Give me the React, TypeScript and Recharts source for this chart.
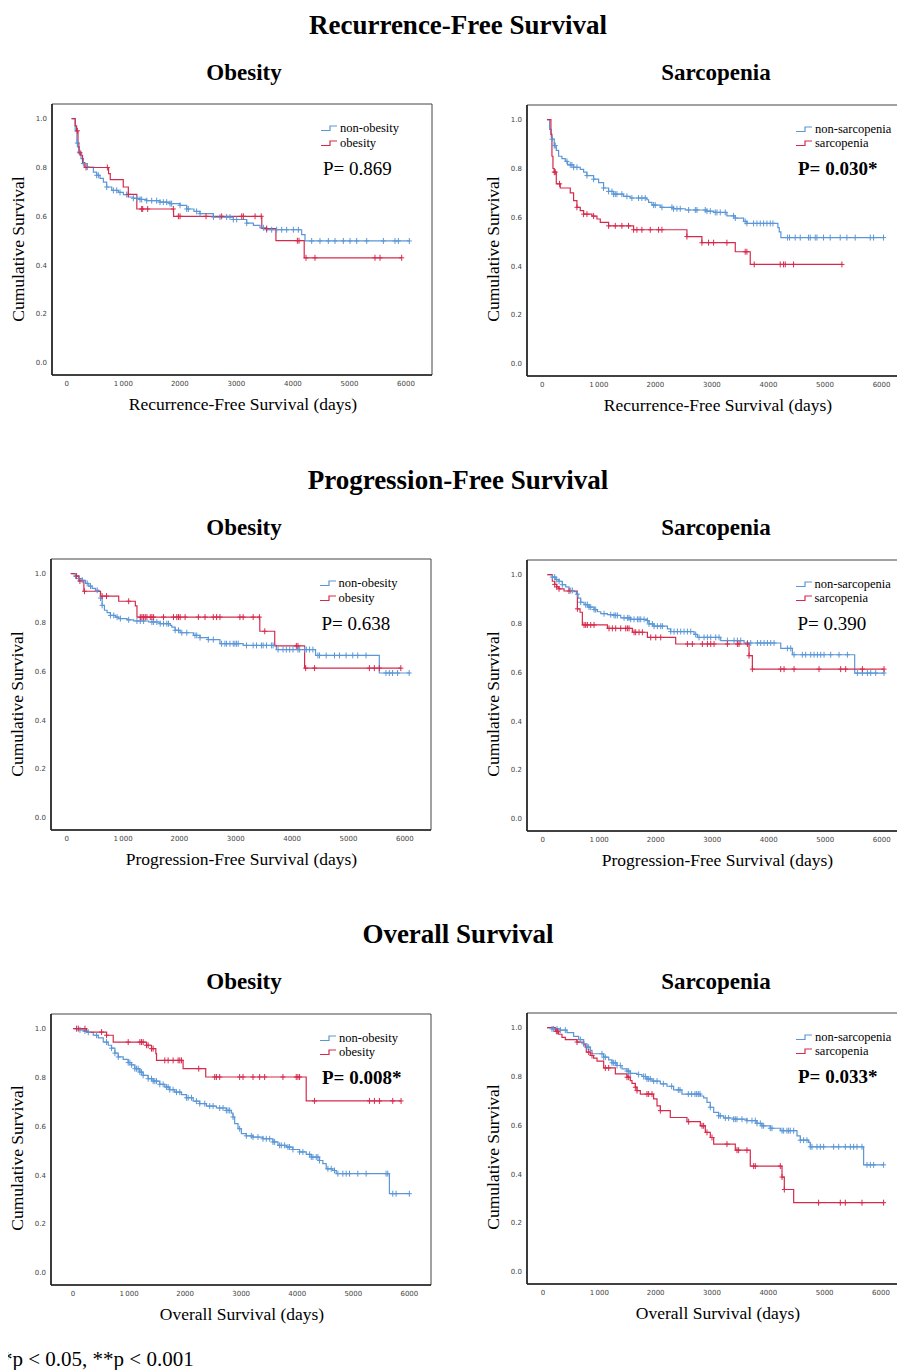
import React from "react";
import { ComposedChart, Line, Scatter, XAxis, YAxis, ReferenceArea } from "recharts";

type Pt = [number, number];

const xTicks = [0, 1000, 2000, 3000, 4000, 5000, 6000];
const yTicks = [0, 0.2, 0.4, 0.6, 0.8, 1.0];

// ---- Recurrence-free survival, obesity ----
const rfsObNonSteps: Pt[] = [[80,1],[150,0.95],[180,0.9],[190,0.884],[224,0.863],[253,0.836],[295,0.816],[365,0.802],[472,0.781],[530,0.768],[589,0.755],[648,0.74],[707,0.72],[796,0.706],[914,0.698],[1002,0.689],[1090,0.679],[1179,0.674],[1297,0.669],[1415,0.664],[1650,0.658],[1827,0.652],[2004,0.645],[2122,0.63],[2250,0.62],[2358,0.611],[2594,0.597],[2947,0.587],[3183,0.572],[3301,0.563],[3419,0.553],[3536,0.545],[4155,0.525],[4214,0.499],[6059,0.499]];
const rfsObNonCens = [189,224,295,365,530,560,707,825,884,943,1061,1179,1238,1297,1326,1415,1503,1591,1650,1709,1768,1827,1856,2004,2122,2151,2298,2358,2594,2711,2829,2888,2947,3006,3183,3478,3536,3625,3713,3802,3890,4008,4097,4332,4479,4627,4745,4892,5010,5128,5305,5600,5806,5865,6059];
const rfsObSteps: Pt[] = [[90,1],[150,0.97],[175,0.95],[200,0.9],[215,0.86],[250,0.85],[280,0.82],[320,0.8],[740,0.775],[770,0.75],[1000,0.72],[1090,0.69],[1240,0.63],[1890,0.6],[3450,0.55],[3700,0.5],[4200,0.43],[5924,0.43]];
const rfsObCens = [189,236,342,719,1090,1326,1344,1432,1886,1975,2004,2464,2741,3095,3124,3331,3440,3536,4079,4108,4232,4391,5452,5541,5924];

// ---- Recurrence-free survival, sarcopenia ----
const rfsSarNonSteps: Pt[] = [[83,1],[130,0.96],[159,0.929],[171,0.92],[212,0.894],[248,0.874],[289,0.85],[348,0.84],[407,0.829],[448,0.815],[554,0.805],[672,0.796],[731,0.785],[790,0.771],[908,0.756],[996,0.742],[1084,0.72],[1173,0.706],[1261,0.695],[1438,0.686],[1556,0.679],[1851,0.672],[1880,0.661],[1939,0.65],[2087,0.641],[2322,0.635],[2529,0.63],[2912,0.625],[3030,0.62],[3265,0.606],[3413,0.597],[3560,0.583],[3619,0.575],[4167,0.558],[4191,0.54],[4220,0.517],[6035,0.517]];
const rfsSarNonCens = [171,212,230,436,495,524,554,613,790,908,1084,1173,1232,1261,1291,1320,1408,1497,1585,1703,1762,1821,1969,1998,2116,2293,2322,2381,2440,2588,2706,2735,2882,2912,2971,3059,3089,3148,3236,3383,3413,3589,3619,3737,3796,3855,3914,3973,4032,4079,4338,4373,4473,4562,4709,4739,4827,4857,4974,5092,5269,5387,5534,5800,5859,6035];
const rfsSarSteps: Pt[] = [[83,1],[153,0.94],[171,0.85],[189,0.8],[212,0.785],[248,0.737],[318,0.72],[495,0.7],[554,0.668],[613,0.641],[672,0.627],[731,0.613],[878,0.605],[967,0.593],[1026,0.579],[1173,0.565],[1615,0.549],[2558,0.521],[2823,0.496],[3413,0.459],[3678,0.407],[5299,0.407]];
const rfsSarCens = [212,230,306,613,731,790,908,1173,1291,1408,1526,1615,1674,1762,1910,2057,2116,2558,2823,2941,3030,3265,3589,3619,3748,4208,4267,4297,4444,5299];

// ---- Progression-free survival, obesity ----
const pfsObNonSteps: Pt[] = [[100,1],[159,0.99],[218,0.98],[277,0.973],[336,0.96],[394,0.949],[453,0.94],[512,0.932],[560,0.927],[601,0.9],[630,0.87],[671,0.85],[718,0.84],[777,0.829],[866,0.822],[924,0.816],[1072,0.811],[1189,0.806],[1454,0.802],[1660,0.795],[1837,0.788],[1866,0.781],[1925,0.768],[2014,0.758],[2249,0.747],[2367,0.738],[2514,0.73],[2720,0.713],[3132,0.706],[3721,0.689],[4416,0.665],[5547,0.593],[6088,0.593]];
const pfsObNonCens = [159,218,277,365,424,542,601,630,777,836,895,954,1101,1248,1307,1366,1513,1543,1601,1660,1719,1778,1807,1925,1984,2043,2132,2278,2308,2367,2514,2602,2749,2808,2838,2897,2956,2985,3015,3044,3191,3309,3368,3456,3486,3545,3633,3662,3751,3839,3898,3957,4016,4104,4134,4222,4252,4310,4369,4458,4487,4605,4752,4840,4958,5076,5164,5311,5665,5724,5782,5871,6077];
const pfsObSteps: Pt[] = [[71,1],[159,0.99],[218,0.97],[306,0.928],[601,0.908],[924,0.887],[1219,0.868],[1248,0.822],[3427,0.764],[3692,0.704],[4222,0.613],[5929,0.613]];
const pfsObCens = [177,236,318,630,707,1101,1307,1336,1366,1395,1425,1484,1513,1543,1719,1896,1955,1984,2014,2102,2337,2455,2602,2661,2720,3074,3132,3309,3420,3515,4075,4104,4240,4399,5371,5459,5547,5929];

// ---- Progression-free survival, sarcopenia ----
const pfsSarNonSteps: Pt[] = [[83,1],[171,0.99],[230,0.98],[289,0.973],[348,0.959],[407,0.95],[466,0.935],[555,0.93],[600,0.92],[625,0.904],[673,0.887],[732,0.877],[820,0.867],[909,0.857],[968,0.848],[1027,0.84],[1145,0.836],[1263,0.833],[1381,0.823],[1558,0.817],[1853,0.812],[1882,0.798],[1971,0.789],[2207,0.778],[2266,0.767],[2679,0.755],[2738,0.743],[3151,0.73],[3564,0.72],[4213,0.698],[4419,0.672],[5522,0.597],[6042,0.597]];
const pfsSarNonCens = [171,212,248,289,348,496,525,614,673,761,791,820,850,909,938,1086,1204,1263,1292,1322,1440,1499,1528,1558,1617,1676,1705,1735,1794,1853,1882,1941,1971,2030,2089,2118,2266,2325,2384,2443,2502,2561,2620,2708,2767,2856,2915,2974,3062,3121,3269,3387,3446,3505,3623,3682,3800,3859,3918,3977,4036,4095,4331,4390,4449,4596,4655,4744,4803,4862,4921,4980,5098,5245,5393,5570,5658,5747,5806,5894,6042];
const pfsSarSteps: Pt[] = [[83,1],[171,0.973],[212,0.96],[248,0.95],[289,0.942],[378,0.933],[614,0.86],[661,0.846],[702,0.794],[1145,0.78],[1587,0.764],[1853,0.743],[2354,0.716],[3652,0.668],[3711,0.613],[6042,0.613]];
const pfsSarCens = [212,248,289,466,614,732,761,791,850,909,1174,1233,1292,1381,1469,1499,1528,1617,1646,1705,1764,1912,2001,2089,2561,2649,2826,2915,2974,3033,3269,3446,3475,3623,3652,3711,4213,4272,4449,4891,5274,5363,5658,6042];

// ---- Overall survival, obesity ----
const osObNonSteps: Pt[] = [[30,1],[125,0.995],[184,0.99],[273,0.985],[362,0.973],[451,0.962],[540,0.945],[629,0.932],[688,0.92],[748,0.9],[807,0.884],[896,0.874],[985,0.861],[1045,0.852],[1104,0.836],[1193,0.822],[1252,0.809],[1341,0.795],[1430,0.785],[1549,0.772],[1638,0.761],[1727,0.75],[1816,0.74],[1935,0.73],[2024,0.717],[2143,0.703],[2261,0.693],[2380,0.683],[2558,0.675],[2736,0.665],[2825,0.654],[2855,0.638],[2884,0.611],[2944,0.59],[3003,0.57],[3092,0.561],[3211,0.556],[3389,0.549],[3567,0.536],[3656,0.522],[3804,0.515],[3923,0.505],[4042,0.495],[4161,0.485],[4250,0.474],[4398,0.46],[4457,0.447],[4517,0.426],[4635,0.419],[4695,0.406],[5644,0.324],[6000,0.324]];
const osObNonCens = [125,214,273,421,599,688,748,807,985,1015,1045,1104,1134,1163,1193,1223,1252,1341,1400,1430,1460,1489,1549,1608,1667,1697,1727,1786,1846,1905,2024,2054,2113,2202,2261,2350,2439,2499,2617,2677,2736,2766,2795,2855,2973,3092,3181,3211,3300,3389,3448,3508,3567,3597,3686,3716,3775,3834,3864,3923,4042,4101,4220,4250,4280,4339,4369,4398,4547,4606,4665,4725,4814,4873,4932,5081,5229,5585,5615,5704,5763,6000];
const osObSteps: Pt[] = [[0,1],[243,0.986],[599,0.973],[718,0.945],[1312,0.932],[1401,0.918],[1478,0.898],[1490,0.87],[1964,0.836],[2368,0.802],[4160,0.704],[5852,0.704]];
const osObCens = [65,95,214,510,599,985,1193,1223,1252,1312,1341,1401,1430,1638,1697,1786,1875,1905,1935,2243,2528,2558,2617,2973,3033,3211,3330,3419,3745,3982,4012,4042,4309,5288,5377,5466,5704,5852];

// ---- Overall survival, sarcopenia ----
const osSarNonSteps: Pt[] = [[71,1],[160,0.995],[308,0.99],[426,0.98],[544,0.964],[633,0.951],[722,0.934],[781,0.92],[840,0.907],[870,0.893],[1077,0.879],[1166,0.868],[1225,0.856],[1314,0.845],[1402,0.831],[1491,0.822],[1550,0.813],[1669,0.808],[1757,0.8],[1846,0.79],[1935,0.781],[2083,0.77],[2201,0.76],[2319,0.745],[2467,0.728],[2793,0.72],[2852,0.712],[2911,0.694],[2970,0.674],[3030,0.653],[3118,0.639],[3207,0.63],[3385,0.625],[3621,0.619],[3799,0.608],[3887,0.598],[4035,0.588],[4213,0.578],[4509,0.557],[4568,0.539],[4716,0.53],[4745,0.512],[5692,0.438],[6047,0.438]];
const osSarNonCens = [160,189,249,308,396,663,722,781,811,1047,1077,1107,1225,1254,1284,1314,1373,1491,1521,1550,1698,1787,1817,1846,1876,1905,1964,2024,2136,2284,2402,2432,2580,2639,2698,2728,2757,2787,2970,3118,3148,3237,3296,3385,3414,3444,3533,3621,3710,3769,3799,3858,3887,3917,4035,4065,4243,4272,4331,4361,4390,4450,4568,4627,4686,4745,4775,4864,4923,4982,5160,5249,5367,5456,5515,5574,5663,5752,5811,5870,6047];
const osSarSteps: Pt[] = [[71,1],[219,0.985],[278,0.973],[337,0.96],[396,0.951],[604,0.941],[722,0.93],[751,0.92],[769,0.9],[840,0.886],[899,0.875],[959,0.863],[1077,0.835],[1284,0.811],[1491,0.797],[1550,0.783],[1580,0.772],[1639,0.756],[1669,0.742],[1728,0.728],[1964,0.708],[2024,0.68],[2083,0.66],[2260,0.632],[2556,0.615],[2793,0.598],[2882,0.571],[2970,0.55],[3030,0.523],[3414,0.498],[3680,0.433],[4243,0.388],[4284,0.337],[4450,0.283],[6047,0.283]];
const osSarCens = [237,260,604,811,870,1107,1166,1491,1521,1639,1669,1846,1876,1935,2083,2586,2823,2852,2911,3000,3266,3444,3473,3621,3740,3769,4213,4243,4284,4893,5278,5367,5663,6047];

const BLUE = "#5b97d6";
const RED = "#d62a4c";
const SERIF = '"Liberation Serif", "Times New Roman", serif';

const stepAt = (steps: Pt[], t: number) => {
  let s = steps[0][1];
  for (const [tt, ss] of steps) if (tt <= t) s = ss;
  return s;
};
const toRows = (steps: Pt[]) => steps.map(([t, s]) => ({ t, s }));
const censRows = (steps: Pt[], days: number[]) => days.map((t) => ({ t, s: stepAt(steps, t) }));

const plusShape = (color: string) => (p: any) => {
  const { cx, cy } = p;
  if (cx == null || cy == null) return <g />;
  return (
    <path
      d={`M${cx - 2.5},${cy}H${cx + 2.5}M${cx},${cy - 3}V${cy + 3}`}
      stroke={color}
      strokeWidth={1}
      fill="none"
    />
  );
};

const LegendIcon = ({ color }: { color: string }) => (
  <svg width={16} height={8} style={{ display: "block" }}>
    <polyline points="0,6.5 9,6.5 9,2 16,2" fill="none" stroke={color} strokeWidth={1.2} />
  </svg>
);

const PLOT_W = 380;
const PLOT_H = 271;
const Y_W = 50;
const M_TOP = 10;
const X_H = 45;

interface PanelProps {
  left: number;
  top: number;
  xDomain: [number, number];
  blue: Pt[];
  blueCens: number[];
  red: Pt[];
  redCens: number[];
  names: [string, string];
  pText: string;
  pBold?: boolean;
  xTitle: string;
}

function KmPanel({ left, top, xDomain, blue, blueCens, red, redCens, names, pText, pBold, xTitle }: PanelProps) {
  const W = Y_W + PLOT_W + 4;
  const H = M_TOP + PLOT_H + X_H;
  const yDomain: [number, number] = [-0.05, 1.06];
  return (
    <div style={{ position: "absolute", left: left - Y_W, top: top - M_TOP, width: W, height: H }}>
      <ComposedChart width={W} height={H} margin={{ top: M_TOP, right: 4, bottom: 0, left: 0 }}>
        <XAxis
          type="number"
          dataKey="t"
          domain={xDomain}
          ticks={xTicks}
          allowDataOverflow
          interval={0}
          height={X_H}
          tickLine={false}
          tickSize={4}
          axisLine={{ stroke: "#222", strokeWidth: 1.6 }}
          tick={{ fontSize: 7, fill: "#444", fontFamily: "DejaVu Sans" }}
          tickFormatter={(v: number) => (v === 1000 ? "1\u2009000" : String(v))}
        />
        <YAxis
          type="number"
          dataKey="s"
          domain={yDomain}
          ticks={yTicks}
          allowDataOverflow
          interval={0}
          width={Y_W}
          tickLine={false}
          tickSize={3}
          axisLine={{ stroke: "#222", strokeWidth: 1.6 }}
          tick={{ fontSize: 7, fill: "#444", fontFamily: "DejaVu Sans" }}
          tickFormatter={(v: number) => v.toFixed(1)}
        />
        <ReferenceArea
          x1={xDomain[0]}
          x2={xDomain[1]}
          y1={yDomain[0]}
          y2={yDomain[1]}
          fill="none"
          fillOpacity={0}
          stroke="#444"
          strokeWidth={1}
        />
        <Line data={toRows(blue)} dataKey="s" type="stepAfter" stroke={BLUE} strokeWidth={1.2} dot={false} isAnimationActive={false} />
        <Line data={toRows(red)} dataKey="s" type="stepAfter" stroke={RED} strokeWidth={1.2} dot={false} isAnimationActive={false} />
        <Scatter data={censRows(blue, blueCens)} dataKey="s" shape={plusShape(BLUE)} isAnimationActive={false} />
        <Scatter data={censRows(red, redCens)} dataKey="s" shape={plusShape(RED)} isAnimationActive={false} />
      </ComposedChart>

      {/* legend + p value */}
      {[BLUE, RED].map((c, i) => (
        <div
          key={c}
          style={{
            position: "absolute",
            left: Y_W + 269,
            top: M_TOP + 24 + i * 14.5 - 7,
            display: "flex",
            alignItems: "center",
            fontFamily: SERIF,
            fontSize: 12.5,
            lineHeight: "14px",
            whiteSpace: "nowrap",
          }}
        >
          <LegendIcon color={c} />
          <span style={{ marginLeft: 3 }}>{names[i]}</span>
        </div>
      ))}
      <div
        style={{
          position: "absolute",
          left: Y_W + 271,
          top: M_TOP + 64 - 9.5,
          fontFamily: SERIF,
          fontSize: 19,
          lineHeight: "19px",
          fontWeight: pBold ? "bold" : "normal",
          whiteSpace: "nowrap",
        }}
      >
        {pText}
      </div>

      {/* axis titles */}
      <div
        style={{
          position: "absolute",
          left: Y_W - 34 - 100,
          top: M_TOP + PLOT_H / 2 + 9 - 10,
          width: 200,
          height: 20,
          lineHeight: "20px",
          textAlign: "center",
          fontFamily: SERIF,
          fontSize: 17.5,
          transform: "rotate(-90deg)",
          whiteSpace: "nowrap",
        }}
      >
        Cumulative Survival
      </div>
      <div
        style={{
          position: "absolute",
          left: Y_W,
          top: M_TOP + PLOT_H + 29 - 10,
          width: PLOT_W + 2,
          lineHeight: "20px",
          textAlign: "center",
          fontFamily: SERIF,
          fontSize: 17.5,
          whiteSpace: "nowrap",
        }}
      >
        {xTitle}
      </div>
    </div>
  );
}

const Heading = ({ text, cx, cy, size }: { text: string; cx: number; cy: number; size: number }) => (
  <div
    style={{
      position: "absolute",
      left: cx - 300,
      width: 600,
      top: cy - size / 2,
      lineHeight: `${size}px`,
      textAlign: "center",
      fontFamily: SERIF,
      fontWeight: "bold",
      fontSize: size,
      whiteSpace: "nowrap",
    }}
  >
    {text}
  </div>
);

export default function App() {
  const OB: [string, string] = ["non-obesity", "obesity"];
  const SAR: [string, string] = ["non-sarcopenia", "sarcopenia"];
  return (
    <div
      style={{
        position: "relative",
        width: 905,
        height: 1370,
        margin: "-8px 0 0 -8px",
        overflow: "hidden",
        background: "#fff",
        color: "#000",
        fontFamily: SERIF,
      }}
    >
      <Heading text="Recurrence-Free Survival" cx={458} cy={25.8} size={27} />
      <Heading text="Obesity" cx={244} cy={72} size={23} />
      <Heading text="Sarcopenia" cx={716} cy={72} size={23} />
      <KmPanel left={52} top={104} xDomain={[-260, 6460]} blue={rfsObNonSteps} blueCens={rfsObNonCens} red={rfsObSteps} redCens={rfsObCens} names={OB} pText="P= 0.869" xTitle="Recurrence-Free Survival (days)" />
      <KmPanel left={527} top={104.5} xDomain={[-270, 6450]} blue={rfsSarNonSteps} blueCens={rfsSarNonCens} red={rfsSarSteps} redCens={rfsSarCens} names={SAR} pText="P= 0.030*" pBold xTitle="Recurrence-Free Survival (days)" />

      <Heading text="Progression-Free Survival" cx={458} cy={480} size={27} />
      <Heading text="Obesity" cx={244} cy={527} size={23} />
      <Heading text="Sarcopenia" cx={716} cy={527} size={23} />
      <KmPanel left={50.5} top={559} xDomain={[-277, 6464]} blue={pfsObNonSteps} blueCens={pfsObNonCens} red={pfsObSteps} redCens={pfsObCens} names={OB} pText="P= 0.638" xTitle="Progression-Free Survival (days)" />
      <KmPanel left={526.5} top={559.5} xDomain={[-278, 6448]} blue={pfsSarNonSteps} blueCens={pfsSarNonCens} red={pfsSarSteps} redCens={pfsSarCens} names={SAR} pText="P= 0.390" xTitle="Progression-Free Survival (days)" />

      <Heading text="Overall Survival" cx={458} cy={934} size={27} />
      <Heading text="Obesity" cx={244} cy={981} size={23} />
      <Heading text="Sarcopenia" cx={716} cy={981} size={23} />
      <KmPanel left={51} top={1013.5} xDomain={[-392, 6386]} blue={osObNonSteps} blueCens={osObNonCens} red={osObSteps} redCens={osObCens} names={OB} pText="P= 0.008*" pBold xTitle="Overall Survival (days)" />
      <KmPanel left={527} top={1012.5} xDomain={[-284, 6462]} blue={osSarNonSteps} blueCens={osSarNonCens} red={osSarSteps} redCens={osSarCens} names={SAR} pText="P= 0.033*" pBold xTitle="Overall Survival (days)" />

      <div
        style={{
          position: "absolute",
          left: 2,
          top: 1349,
          fontFamily: SERIF,
          fontSize: 21,
          lineHeight: "21px",
          whiteSpace: "nowrap",
        }}
      >
        *p &lt; 0.05, **p &lt; 0.001
      </div>
    </div>
  );
}
